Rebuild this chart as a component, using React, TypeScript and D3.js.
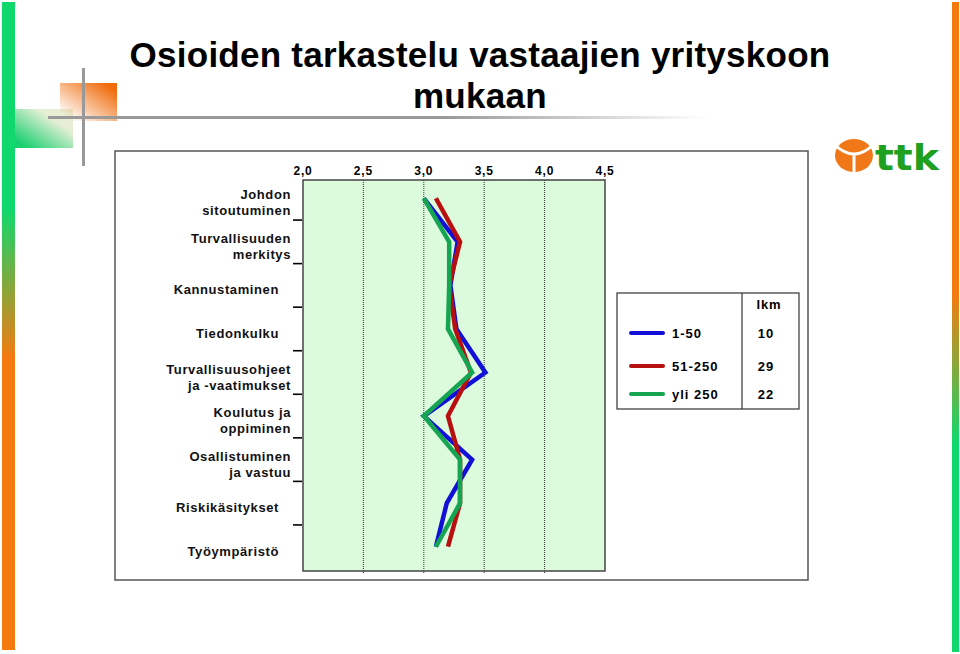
import React from "react";
import * as d3 from "d3";

// categories (top to bottom), "\n" splits a label over two lines
const categories = [
  "Johdon\nsitoutuminen",
  "Turvallisuuden\nmerkitys",
  "Kannustaminen",
  "Tiedonkulku",
  "Turvallisuusohjeet\nja -vaatimukset",
  "Koulutus ja\noppiminen",
  "Osallistuminen\nja vastuu",
  "Riskikäsitykset",
  "Työympäristö",
];

const small = [3.0, 3.28, 3.22, 3.27, 3.51, 3.0, 3.4, 3.19, 3.1]; // 1-50
const medium = [3.1, 3.3, 3.21, 3.26, 3.39, 3.2, 3.3, 3.3, 3.2]; // 51-250
const large = [3.0, 3.21, 3.21, 3.2, 3.4, 3.0, 3.3, 3.3, 3.1]; // yli 250

const seriesNames = ["1-50", "51-250", "yli 250"];
const seriesCounts = [10, 29, 22];
const seriesColors = ["#1010d8", "#b81010", "#15a552"];
const xTicks = [2.0, 2.5, 3.0, 3.5, 4.0, 4.5];

const W = 960;
const H = 654;
const plot = { left: 303, right: 605, top: 180, bottom: 571 };
const font = "'Liberation Sans', Arial, sans-serif";

const fmt = (v: number) => v.toFixed(1).replace(".", ",");

const App: React.FC = () => {
  const x = d3.scaleLinear().domain([2, 4.5]).range([plot.left, plot.right]);
  const y = d3.scaleBand().domain(categories).range([176.5, 568.5]);
  const yc = (c: string) => y(c)! + y.bandwidth() / 2;

  const series = [small, medium, large];
  const line = d3
    .line<number>()
    .x((d) => x(d))
    .y((_, i) => yc(categories[i]));

  const boundaries = categories.slice(1).map((c) => y(c)!);

  return (
    <svg
      width={W}
      height={H}
      style={{ position: "absolute", left: 0, top: 0, background: "#fff" }}
      fontFamily={font}
    >
      <defs>
        <linearGradient id="leftBar" x1="0" y1="0" x2="0" y2="1">
          <stop offset="0.32" stopColor="#10d86c" />
          <stop offset="0.55" stopColor="#f47a10" />
        </linearGradient>
        <linearGradient id="rightBar" x1="0" y1="0" x2="0" y2="1">
          <stop offset="0.45" stopColor="#f47a10" />
          <stop offset="0.68" stopColor="#10d86c" />
        </linearGradient>
        <linearGradient id="orangeSq" x1="1" y1="0" x2="0" y2="1">
          <stop offset="0.1" stopColor="#f06a08" />
          <stop offset="0.9" stopColor="#f06a08" stopOpacity="0" />
        </linearGradient>
        <linearGradient id="greenSq" x1="0" y1="1" x2="1" y2="0">
          <stop offset="0.1" stopColor="#18d070" />
          <stop offset="0.7" stopColor="#e6efd6" />
        </linearGradient>
        <linearGradient id="hLine" x1="0" y1="0" x2="1" y2="0">
          <stop offset="0.6" stopColor="#999" />
          <stop offset="1" stopColor="#999" stopOpacity="0" />
        </linearGradient>
      </defs>

      {/* side bars */}
      <rect x={2} y={2} width={13} height={648} fill="url(#leftBar)" />
      <rect x={952} y={2} width={7} height={650} fill="url(#rightBar)" />

      {/* corner decoration */}
      <rect x={15} y={109} width={58} height={39} fill="url(#greenSq)" />
      <rect x={60} y={83} width={57} height={38} fill="url(#orangeSq)" />
      <rect x={48} y={116} width={660} height={3} fill="url(#hLine)" />
      <rect x={82} y={68} width={3} height={98} fill="#999" />

      {/* title */}
      <text
        x={480}
        y={67}
        textAnchor="middle"
        fontSize={35}
        fontWeight="bold"
        letterSpacing={0.25}
      >
        Osioiden tarkastelu vastaajien yrityskoon
      </text>
      <text x={480} y={108} textAnchor="middle" fontSize={35} fontWeight="bold" letterSpacing={0.3}>
        mukaan
      </text>

      {/* logo */}
      <g>
        <ellipse cx={854} cy={155.5} rx={19} ry={16.5} fill="#f07818" />
        <path
          d="M835,145 Q854,163 873,145 M854,154 L854,172"
          fill="none"
          stroke="#fff"
          strokeWidth={3}
        />
        <text
          x={875}
          y={170}
          fontFamily="'DejaVu Sans', sans-serif"
          fontWeight="bold"
          fontSize={36}
          fill="#20a020"
          textLength={64}
          lengthAdjust="spacingAndGlyphs"
        >
          ttk
        </text>
      </g>

      {/* chart frame */}
      <rect x={115} y={151} width={693} height={429} fill="#fff" stroke="#555" strokeWidth={1.5} />

      {/* plot area */}
      <rect
        x={plot.left}
        y={plot.top}
        width={plot.right - plot.left}
        height={plot.bottom - plot.top}
        fill="#dcfadc"
      />
      {xTicks.slice(1, -1).map((t) => (
        <line
          key={t}
          x1={x(t)}
          x2={x(t)}
          y1={plot.top}
          y2={plot.bottom + 3}
          stroke="#333"
          strokeWidth={1}
          strokeDasharray="1,1"
        />
      ))}
      <rect
        x={plot.left}
        y={plot.top}
        width={plot.right - plot.left}
        height={plot.bottom - plot.top}
        fill="none"
        stroke="#444"
        strokeWidth={1.5}
      />

      {/* x axis labels on top */}
      {xTicks.map((t) => (
        <text
          key={t}
          x={x(t)}
          y={175}
          textAnchor="middle"
          fontSize={12}
          fontWeight="bold"
          letterSpacing={0.8}
        >
          {fmt(t)}
        </text>
      ))}

      {/* y ticks */}
      {boundaries.map((b, i) => (
        <line key={i} x1={293} x2={302} y1={b} y2={b} stroke="#000" strokeWidth={1.6} />
      ))}

      {/* category labels */}
      {categories.map((c) => {
        const lines = c.split("\n");
        const cy = yc(c);
        const xPos = lines.length > 1 ? 291 : 279;
        return (
          <text
            key={c}
            x={xPos}
            textAnchor="end"
            fontSize={13}
            fontWeight="bold"
            letterSpacing={0.6}
            fill="#111"
          >
            {lines.map((l, j) => (
              <tspan key={j} x={xPos} y={cy + 9 + (j - (lines.length - 1) / 2) * 16}>
                {l}
              </tspan>
            ))}
          </text>
        );
      })}

      {/* series lines */}
      {series.map((s, i) => (
        <path
          key={i}
          d={line(s)!}
          fill="none"
          stroke={seriesColors[i]}
          strokeWidth={4.5}
          strokeLinejoin="miter"
        />
      ))}

      {/* legend */}
      <rect x={617} y={293} width={182} height={116} fill="#fff" stroke="#333" strokeWidth={1.2} />
      <line x1={742} x2={742} y1={293} y2={409} stroke="#333" strokeWidth={1.2} />
      <text x={769} y={309} textAnchor="middle" fontSize={13} fontWeight="bold" letterSpacing={0.8}>
        lkm
      </text>
      {seriesNames.map((n, i) => {
        const ly = [333, 366, 394][i];
        return (
          <g key={n}>
            <line
              x1={631}
              x2={663}
              y1={ly}
              y2={ly}
              stroke={seriesColors[i]}
              strokeWidth={4}
              strokeLinecap="round"
            />
            <text x={672} y={ly + 5} fontSize={13} fontWeight="bold" letterSpacing={1}>
              {n}
            </text>
            <text x={766} y={ly + 5} textAnchor="middle" fontSize={13} fontWeight="bold" letterSpacing={1}>
              {seriesCounts[i]}
            </text>
          </g>
        );
      })}
    </svg>
  );
};

export default App;
